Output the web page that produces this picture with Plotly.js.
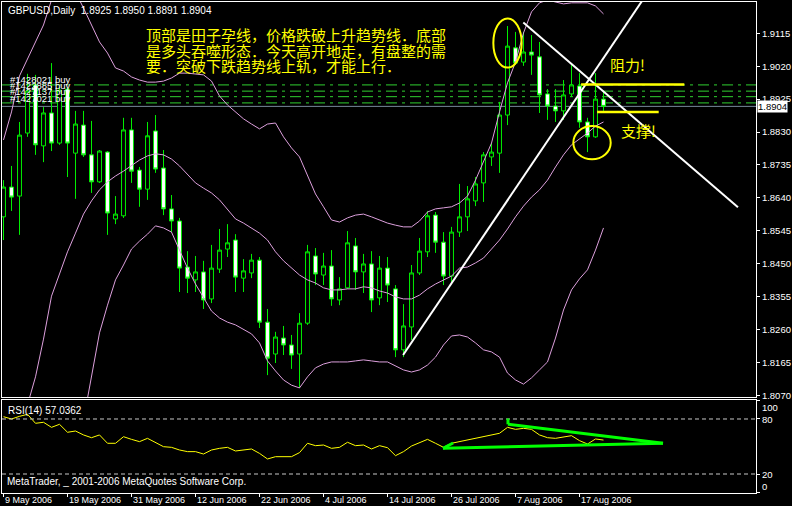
<!DOCTYPE html>
<html><head><meta charset="utf-8">
<script src="https://cdn.plot.ly/plotly-3.0.1.min.js"></script>
<style>html,body{margin:0;padding:0;background:#000;}#chart{width:792px;height:506px;}</style>
</head><body><div id="chart"></div>
<script>
// ---------- DATA ----------
const dates = [
 '2006-05-09','2006-05-10','2006-05-11','2006-05-12','2006-05-15','2006-05-16','2006-05-17','2006-05-18','2006-05-19',
 '2006-05-22','2006-05-23','2006-05-24','2006-05-25','2006-05-26','2006-05-29','2006-05-30','2006-05-31',
 '2006-06-01','2006-06-02','2006-06-05','2006-06-06','2006-06-07','2006-06-08','2006-06-09','2006-06-12',
 '2006-06-13','2006-06-14','2006-06-15','2006-06-16','2006-06-19','2006-06-20','2006-06-21','2006-06-22',
 '2006-06-23','2006-06-26','2006-06-27','2006-06-28','2006-06-29','2006-06-30','2006-07-03','2006-07-04',
 '2006-07-05','2006-07-06','2006-07-07','2006-07-10','2006-07-11','2006-07-12','2006-07-13','2006-07-14',
 '2006-07-17','2006-07-18','2006-07-19','2006-07-20','2006-07-21','2006-07-24','2006-07-25','2006-07-26',
 '2006-07-27','2006-07-28','2006-07-31','2006-08-01','2006-08-02','2006-08-03','2006-08-04','2006-08-07',
 '2006-08-08','2006-08-09','2006-08-10','2006-08-11','2006-08-14','2006-08-15','2006-08-16','2006-08-17',
 '2006-08-18','2006-08-21','2006-08-22'];

const openP = [1.8585,1.8671,1.8645,1.8827,1.8966,1.8790,1.8885,1.8798,1.8954,1.8769,
 1.8850,1.8764,1.8686,1.8772,1.8579,1.8588,1.8836,1.8720,1.8665,1.8833,
 1.8726,1.8608,1.8573,1.8440,1.8403,1.8426,1.8348,1.8434,1.8492,1.8518,
 1.8408,1.8423,1.8460,1.8281,1.8189,1.8235,1.8215,1.8189,1.8278,1.8472,
 1.8417,1.8443,1.8345,1.8380,1.8501,1.8426,1.8449,1.8351,1.8437,1.8377,
 1.8201,1.8267,1.8423,1.8484,1.8590,1.8512,1.8414,1.8541,1.8585,1.8631,
 1.8683,1.8758,1.8769,1.8879,1.9073,1.9032,1.9061,1.9047,1.8940,1.8905,
 1.8891,1.8940,1.8963,1.8859,1.8816,1.8925];
const highP = [1.8691,1.8732,1.8859,1.8998,1.8995,1.8902,1.9029,1.8960,1.8960,1.8891,
 1.8891,1.8862,1.8778,1.8775,1.8645,1.8871,1.8871,1.8729,1.8859,1.8879,
 1.8778,1.8648,1.8582,1.8486,1.8472,1.8458,1.8504,1.8550,1.8564,1.8535,
 1.8463,1.8478,1.8469,1.8319,1.8253,1.8270,1.8244,1.8307,1.8504,1.8495,
 1.8481,1.8489,1.8411,1.8544,1.8524,1.8478,1.8486,1.8472,1.8469,1.8388,
 1.8333,1.8446,1.8524,1.8602,1.8599,1.8541,1.8556,1.8680,1.8674,1.8700,
 1.8772,1.8798,1.8917,1.9136,1.9119,1.9119,1.9110,1.9090,1.8954,1.8954,
 1.8980,1.9029,1.9000,1.8871,1.9000,1.8950];
const lowP = [1.8518,1.8602,1.8533,1.8816,1.8764,1.8743,1.8775,1.8793,1.8700,1.8637,
 1.8758,1.8654,1.8683,1.8533,1.8564,1.8582,1.8683,1.8614,1.8634,1.8712,
 1.8590,1.8541,1.8368,1.8365,1.8368,1.8319,1.8336,1.8423,1.8469,1.8368,
 1.8368,1.8408,1.8264,1.8128,1.8163,1.8186,1.8146,1.8091,1.8273,1.8388,
 1.8388,1.8328,1.8330,1.8377,1.8374,1.8365,1.8310,1.8330,1.8339,1.8180,
 1.8180,1.8229,1.8417,1.8469,1.8481,1.8388,1.8397,1.8527,1.8544,1.8616,
 1.8628,1.8732,1.8712,1.8850,1.9024,1.9021,1.8995,1.8885,1.8865,1.8859,
 1.8865,1.8931,1.8842,1.8772,1.8813,1.8891];
const closeP = [1.8671,1.8642,1.8821,1.8948,1.8793,1.8885,1.8798,1.8951,1.8798,1.8853,
 1.8764,1.8686,1.8775,1.8596,1.8593,1.8836,1.8717,1.8665,1.8819,1.8723,
 1.8608,1.8573,1.8437,1.8408,1.8426,1.8345,1.8437,1.8489,1.8510,1.8411,
 1.8429,1.8460,1.8281,1.8177,1.8238,1.8215,1.8186,1.8278,1.8484,1.8420,
 1.8443,1.8348,1.8377,1.8510,1.8426,1.8449,1.8345,1.8437,1.8388,1.8201,
 1.8270,1.8423,1.8486,1.8588,1.8512,1.8414,1.8541,1.8585,1.8637,1.8680,
 1.8764,1.8772,1.8879,1.9078,1.9029,1.9061,1.9052,1.8937,1.8905,1.8891,
 1.8937,1.8966,1.8859,1.8816,1.8925,1.8904];

const bbUpper = [1.8807,1.8888,1.8992,1.9041,1.9090,1.9139,1.9211,1.9246,1.9255,1.9234,
 1.9188,1.9139,1.9090,1.9058,1.9015,1.9006,1.8989,1.8980,1.8974,1.8974,
 1.8977,1.8986,1.9000,1.9000,1.8998,1.8995,1.8977,1.8934,1.8908,1.8888,
 1.8868,1.8853,1.8839,1.8853,1.8856,1.8816,1.8784,1.8758,1.8703,1.8651,
 1.8614,1.8576,1.8570,1.8582,1.8590,1.8593,1.8585,1.8576,1.8567,1.8561,
 1.8556,1.8556,1.8573,1.8599,1.8608,1.8611,1.8614,1.8625,1.8645,1.8691,
 1.8743,1.8798,1.8888,1.8972,1.9032,1.9116,1.9177,1.9203,1.9211,1.9205,
 1.9200,1.9203,1.9203,1.9203,1.9194,1.9171];
const bbMiddle = [1.7796,1.7883,1.7970,1.8042,1.8123,1.8232,1.8356,1.8420,1.8484,1.8538,
 1.8593,1.8631,1.8663,1.8686,1.8703,1.8717,1.8732,1.8749,1.8761,1.8767,
 1.8764,1.8752,1.8732,1.8709,1.8683,1.8668,1.8654,1.8634,1.8605,1.8579,
 1.8567,1.8553,1.8538,1.8518,1.8484,1.8458,1.8437,1.8417,1.8403,1.8394,
 1.8380,1.8374,1.8374,1.8377,1.8377,1.8383,1.8380,1.8371,1.8365,1.8354,
 1.8348,1.8348,1.8359,1.8377,1.8391,1.8403,1.8414,1.8437,1.8440,1.8452,
 1.8466,1.8492,1.8518,1.8550,1.8585,1.8616,1.8642,1.8663,1.8691,1.8729,
 1.8764,1.8793,1.8810,1.8827,1.8847,1.8859];
const bbLower = [1.6785,1.6878,1.6948,1.7043,1.7156,1.7325,1.7501,1.7594,1.7713,1.7842,
 1.7998,1.8120,1.8250,1.8330,1.8403,1.8446,1.8492,1.8515,1.8535,1.8559,
 1.8553,1.8541,1.8489,1.8437,1.8391,1.8351,1.8313,1.8293,1.8281,1.8273,
 1.8261,1.8247,1.8221,1.8169,1.8140,1.8114,1.8099,1.8091,1.8123,1.8149,
 1.8160,1.8166,1.8166,1.8166,1.8169,1.8172,1.8169,1.8166,1.8166,1.8154,
 1.8143,1.8137,1.8143,1.8157,1.8180,1.8215,1.8241,1.8244,1.8238,1.8221,
 1.8201,1.8195,1.8180,1.8134,1.8114,1.8102,1.8120,1.8143,1.8166,1.8235,
 1.8316,1.8374,1.8406,1.8432,1.8489,1.8553];

const rsi14 = [82.5,80.0,82.9,85.1,75.3,76.4,70.9,74.2,65.5,66.9,
 62.6,59.6,62.6,53.5,53.5,60.7,57.8,55.3,58.9,54.2,
 49.8,49.1,46.2,44.4,44.4,41.8,46.2,48.0,49.1,45.1,
 46.2,47.3,42.5,36.4,38.9,38.9,38.9,43.3,53.5,50.9,
 51.6,48.0,49.1,54.6,50.9,51.6,47.3,50.9,48.7,40.0,
 44.4,50.5,54.5,57.8,53.5,49.1,53.5,55.3,57.1,58.9,
 60.7,62.2,64.4,70.9,68.7,69.8,68.7,62.6,59.6,58.9,
 60.7,61.8,56.4,52.7,58.2,57.0362];

const priceTicks = [1.8070,1.8165,1.8260,1.8355,1.8450,1.8545,1.8640,1.8735,1.8830,1.8925,1.9020,1.9115];
const dateTickDates = ['2006-05-09','2006-05-19','2006-05-31','2006-06-12','2006-06-22','2006-07-04','2006-07-14','2006-07-26','2006-08-07','2006-08-17'];
const dateTickLabels = ['9 May 2006','19 May 2006','31 May 2006','12 Jun 2006','22 Jun 2006','4 Jul 2006','14 Jul 2006','26 Jul 2006','7 Aug 2006','17 Aug 2006'];
const rsiTicks = [100,80,20,0];
const rsiLevels = [80,20];

const orderPrices = [1.8966,1.8948,1.8932,1.8914];
const orderLabels = ['#1428021 buy','#1422885 buy','#1427137 buy','#1427021 buy'];
const bidPrice = 1.8904;
const headerText = 'GBPUSD,Daily  1.8925 1.8950 1.8891 1.8904';
const noteLines = ['顶部是田子孕线，价格跌破上升趋势线．底部','是多头吞噬形态．今天高开地走，有盘整的需','要．突破下跌趋势线上轨，才能上行．'];

// ---------- LAYOUT HELPERS ----------
const W = 792, H = 506, ML = 2, MR = 36, MT = 2, MB = 13;
const PW = W - ML - MR, PH = H - MT - MB;
const px = x => (x - ML) / PW;
const py = y => (H - MB - y) / PH;
const idx = dates.map((d, i) => i);
const barPx = 8, bar0 = 3.5;
const xRange = [(ML - bar0) / barPx, (W - MR - bar0) / barPx];

const font = 'Liberation Sans, Arial, sans-serif';
const cjk = 'Noto Sans CJK SC, sans-serif';
const green = '#00ee00';
const band = '#dda0dd';

const traces = [
 {type:'candlestick', x: idx, open: openP, high: highP, low: lowP, close: closeP,
  xaxis:'x', yaxis:'y', whiskerwidth: 0,
  increasing:{line:{color:green, width:1}, fillcolor:'#000000'},
  decreasing:{line:{color:green, width:1}, fillcolor:'#ffffff'},
  hoverinfo:'skip', showlegend:false},
 {type:'scatter', mode:'lines', x: idx, y: bbUpper, line:{color:band, width:1}, xaxis:'x', yaxis:'y', showlegend:false, hoverinfo:'skip'},
 {type:'scatter', mode:'lines', x: idx, y: bbMiddle, line:{color:band, width:1}, xaxis:'x', yaxis:'y', showlegend:false, hoverinfo:'skip'},
 {type:'scatter', mode:'lines', x: idx, y: bbLower, line:{color:band, width:1}, xaxis:'x', yaxis:'y', showlegend:false, hoverinfo:'skip'},
 {type:'scatter', mode:'lines', x: idx, y: rsi14, line:{color:'#ffff00', width:1}, xaxis:'x2', yaxis:'y2', showlegend:false, hoverinfo:'skip'}
];

const shapes = [];
orderPrices.forEach(p => shapes.push({type:'line', xref:'paper', x0:0, x1:1, yref:'y', y0:p, y1:p,
  line:{color:'#30d030', width:1, dash:'11px,5px,3px,5px'}, layer:'below'}));
shapes.push({type:'line', xref:'paper', x0:0, x1:1, yref:'y', y0:bidPrice, y1:bidPrice, line:{color:'#778899', width:1}, layer:'below'});
rsiLevels.forEach(v => shapes.push({type:'line', xref:'paper', x0:0, x1:1, yref:'y2', y0:v, y1:v,
  line:{color:'#c8c8c8', width:1, dash:'4px,3px'}}));
// drawn objects on the price panel
shapes.push({type:'line', xref:'x', yref:'y', x0:49.95, y0:1.8186, x1:81.5, y1:1.9266, line:{color:'#ffffff', width:2}});
shapes.push({type:'line', xref:'x', yref:'y', x0:64.98, y0:1.9146, x1:91.81, y1:1.8613, line:{color:'#ffffff', width:2}});
shapes.push({type:'line', xref:'x', yref:'y', x0:72.2, y0:1.8967, x1:85.1, y1:1.8967, line:{color:'#ffff00', width:2.5}});
shapes.push({type:'line', xref:'x', yref:'y', x0:74.2, y0:1.8888, x1:81.9, y1:1.8888, line:{color:'#ffff00', width:2.5}});
shapes.push({type:'circle', xref:'x', yref:'y', x0:61.23, x1:64.77, y0:1.9016, y1:1.9158, line:{color:'#ffff00', width:2}});
shapes.push({type:'circle', xref:'x', yref:'y', x0:71.23, x1:75.9, y0:1.8751, y1:1.8847, line:{color:'#ffff00', width:2}});
// drawn objects on the RSI panel
const g3 = {color:'#00ff00', width:3};
shapes.push({type:'line', xref:'x2', yref:'y2', x0:54.94, y0:48.0, x1:82.44, y1:53.5, line:g3});
shapes.push({type:'line', xref:'x2', yref:'y2', x0:63.06, y0:74.2, x1:82.44, y1:53.5, line:g3});
shapes.push({type:'line', xref:'x2', yref:'y2', x0:63.06, y0:80.5, x1:63.06, y1:74.2, line:g3});
shapes.push({type:'line', xref:'x2', yref:'y2', x0:54.94, y0:48.0, x1:56.2, y1:53.8, line:g3});

const annotations = [];
const txt = (x, y, text, opts) => Object.assign({xref:'paper', yref:'paper', x:px(x), y:py(y), text, showarrow:false,
  xanchor:'left', yanchor:'middle', font:{family:font, size:10, color:'#ffffff'}}, opts || {});
annotations.push(txt(6, 11, headerText));
noteLines.forEach((t, k) => annotations.push(txt(144, 35 + k * 15.5, t, {font:{family:cjk, size:15, color:'#ffff00'}})));
annotations.push(txt(608, 64, '阻力!', {font:{family:cjk, size:15, color:'#ffff00'}}));
annotations.push(txt(619, 131, '支撑!', {font:{family:cjk, size:15, color:'#ffff00'}}));
orderLabels.forEach((t, k) => annotations.push(txt(8, [80, 85.5, 91, 98][k], t, {font:{family:font, size:9.5, color:'#ffffff'}})));
annotations.push(txt(6, 410, 'RSI(14) ' + rsi14[rsi14.length - 1].toFixed(4)));
annotations.push(txt(5, 481, 'MetaTrader, _ 2001-2006 MetaQuotes Software Corp.'));
[407, 419, 474, 486].forEach((y, k) => annotations.push(txt(760, y, String(rsiTicks[k]), {font:{family:font, size:9.5, color:'#ffffff'}})));
annotations.push(txt(757, 106, bidPrice.toFixed(4), {bgcolor:'#ffffff', borderpad:0, font:{family:font, size:9.5, color:'#000000'}}));
const tickIdx = dateTickDates.map(d => dates.indexOf(d));
tickIdx.forEach((i, k) => annotations.push({xref:'x2', yref:'paper', x:i, y:py(500), xshift:-1, text:dateTickLabels[k],
  showarrow:false, xanchor:'left', yanchor:'middle', font:{family:font, size:9, color:'#ffffff'}}));

const axLine = {showline:true, mirror:true, linecolor:'#ffffff', linewidth:1, showgrid:false, zeroline:false};
const layout = {
  width: W, height: H, margin:{l:ML, r:MR, t:MT, b:MB, pad:0},
  paper_bgcolor:'#000000', plot_bgcolor:'#000000', showlegend:false, boxgap:0.3,
  xaxis: Object.assign({domain:[0,1], anchor:'y', range:xRange, ticks:'', showticklabels:false, rangeslider:{visible:false}}, axLine),
  yaxis: Object.assign({domain:[py(397), 1], anchor:'x', range:[1.80648, 1.92054], side:'right',
    tickvals: priceTicks, ticktext: priceTicks.map(v => v.toFixed(4)), ticks:'outside', ticklen:3, tickcolor:'#ffffff',
    tickfont:{family:font, size:9.5, color:'#ffffff'}}, axLine),
  xaxis2: Object.assign({domain:[0,1], anchor:'y2', range:xRange, tickvals: tickIdx, ticks:'outside', ticklen:3,
    tickcolor:'#ffffff', showticklabels:false}, axLine),
  yaxis2: Object.assign({domain:[0, py(400)], anchor:'x2', range:[-0.7, 100.7], side:'right', tickvals: rsiTicks,
    ticks:'outside', ticklen:3, tickcolor:'#ffffff', showticklabels:false}, axLine),
  shapes, annotations
};
Plotly.newPlot('chart', traces, layout, {staticPlot:true, displayModeBar:false});
</script>
</body></html>
